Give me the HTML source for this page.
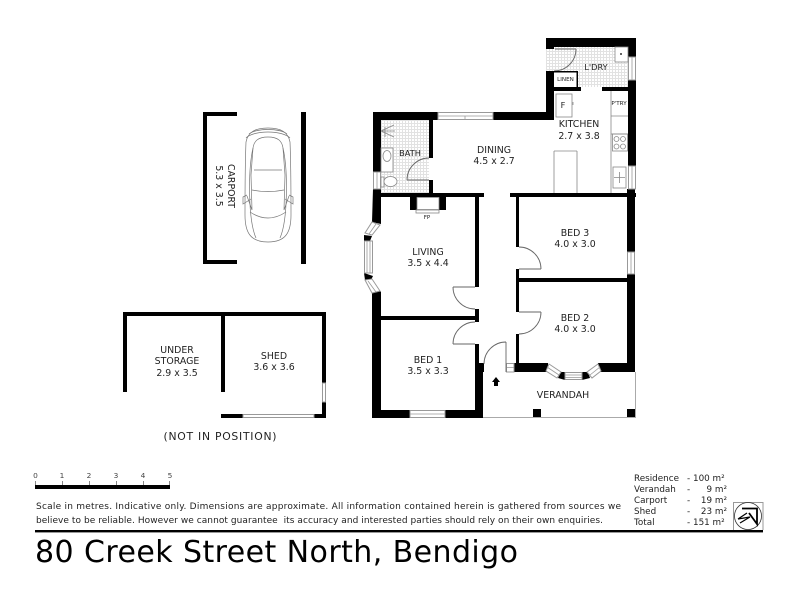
<!DOCTYPE html>
<html><head><meta charset="utf-8"><style>
html,body{margin:0;padding:0;background:#fff}
svg{display:block;filter:blur(.35px)}
text{font-family:"DejaVu Sans","Liberation Sans",sans-serif;fill:#222}
.r{font-size:9.4px;text-anchor:middle}
.s{font-size:8.2px;text-anchor:middle}
.t{font-size:5.6px;text-anchor:middle}
.a{font-size:8.8px}
.n{font-size:7.4px;text-anchor:middle;fill:#444}
</style></head><body>
<svg width="800" height="600" viewBox="0 0 800 600" xmlns="http://www.w3.org/2000/svg">
<defs><pattern id="g" width="3" height="3" patternUnits="userSpaceOnUse"><rect width="3" height="3" fill="#fff"/><path d="M0 .5H3M.5 0V3" stroke="#e2e2e2" stroke-width="1"/></pattern></defs>
<rect width="800" height="600" fill="#fff"/>
<!-- grids -->
<rect x="546" y="47" width="82" height="40" fill="url(#g)"/>
<rect x="381" y="120" width="48" height="73" fill="url(#g)"/>
<!-- walls -->
<g fill="#000">
<rect x="546" y="38" width="90" height="9"/>
<rect x="628" y="38" width="8" height="19"/>
<rect x="628" y="80" width="8" height="86"/>
<rect x="627" y="189" width="8" height="63"/>
<rect x="627" y="274" width="8" height="98"/>
<rect x="546" y="38" width="8" height="11"/>
<rect x="546" y="71" width="8" height="49"/>
<rect x="493" y="112" width="61" height="8"/>
<rect x="373" y="112" width="65" height="8"/>
<rect x="373" y="112" width="8" height="60"/>
<rect x="429" y="120" width="4" height="38"/>
<rect x="429" y="180" width="4" height="14"/>
<rect x="373" y="193" width="111" height="4"/>
<rect x="510" y="193" width="126" height="4"/>
<polygon points="373,189 381,189 381,224 372,222"/>
<polygon points="372,293 380,291 381,292 381,418 372,418"/>
<rect x="410" y="197" width="7" height="13"/>
<rect x="439" y="197" width="7" height="13"/>
<rect x="475" y="197" width="4" height="90"/>
<rect x="475" y="309" width="4" height="13"/>
<rect x="381" y="316" width="98" height="4"/>
<rect x="475" y="344" width="4" height="20"/>
<rect x="475" y="363" width="9" height="9"/>
<rect x="475" y="372" width="8" height="46"/>
<rect x="372" y="410" width="38" height="8"/>
<rect x="445" y="410" width="38" height="8"/>
<rect x="516" y="197" width="3" height="50"/>
<rect x="516" y="269" width="3" height="43"/>
<rect x="516" y="334" width="3" height="30"/>
<rect x="516" y="278" width="111" height="4"/>
<rect x="514" y="363" width="34" height="9"/>
<rect x="598" y="363" width="37" height="9"/>
<rect x="554" y="87" width="27" height="4"/>
<rect x="602" y="87" width="26" height="4"/>
<rect x="533" y="409" width="8" height="8"/>
<rect x="627" y="409" width="8" height="8"/>
<!-- bay blocks -->
<polygon points="364,235 372,236 370,241 364,241"/>
<polygon points="364,273 373,276 371,280 365,280"/>
<polygon points="558,378 565,380 565,372 561,372"/>
<polygon points="582,372 588,372 590,378 582,380"/>
<!-- carport -->
<rect x="203" y="112" width="4" height="152"/>
<rect x="203" y="112" width="34" height="4"/>
<rect x="203" y="260" width="34" height="4"/>
<rect x="301" y="112" width="5" height="152"/>
<!-- shed -->
<rect x="123" y="312" width="203" height="4"/>
<rect x="123" y="312" width="4" height="80"/>
<rect x="221" y="316" width="4" height="76"/>
<rect x="322" y="312" width="4" height="71"/>
<rect x="322" y="402" width="4" height="16"/>
<rect x="221" y="414" width="22" height="4"/>
<rect x="314" y="414" width="12" height="4"/>
<!-- scale + rule -->
<rect x="35" y="485" width="135" height="4"/>
<rect x="35" y="530" width="728" height="2.4"/>
</g>
<!-- windows -->
<g fill="#fff" stroke="#999" stroke-width="1">
<rect x="628.5" y="57" width="7" height="23"/>
<rect x="628.5" y="166" width="7" height="23"/>
<rect x="627.5" y="252" width="7" height="22"/>
<rect x="373.5" y="172" width="7" height="17"/>
<rect x="410" y="410.5" width="35" height="7"/>
<rect x="438" y="112.5" width="55" height="7"/>
<rect x="364.5" y="241" width="8" height="32"/>
<rect x="565" y="372.5" width="17" height="7"/>
<rect x="506.5" y="363.5" width="7.5" height="8.5"/>
<rect x="322.5" y="383" width="3" height="19"/>
<rect x="243" y="414.5" width="71" height="3"/>
<polygon points="372,222 380,225 372,235 365,233"/>
<polygon points="365,280 372,279 380,291 372,293"/>
<polygon points="549,364 561,372 557,378 546,371"/>
<polygon points="598,364 587,372 592,378 601,371"/>
</g>
<g stroke="#999" stroke-width=".8" fill="none">
<path d="M632 57V80M632 166V189M631 252V274M377 172V189M410 414H445M367 241V273M370 241V273M565 375H582M565 377.500H582M507 367.500H514M438 116H465M465 116V120M465 116H493M369 234L376 224M368 281L376 292M547 367L559 375M600 367L590 375"/>
</g>
<!-- doors -->
<g fill="none" stroke="#666" stroke-width=".9">
<path d="M576 49H555M576 49A22 22 0 0 1 554 71"/>
<path d="M407 180H429M407 180A22 22 0 0 1 429 158"/>
<path d="M453 287H475M453 287A22 22 0 0 0 475 309"/>
<path d="M453 344H475M453 344A22 22 0 0 1 475 322"/>
<path d="M519 269H541M541 269A22 22 0 0 0 519 247"/>
<path d="M519 312H541M541 312A22 22 0 0 1 519 334"/>
<path d="M506 342V372M506 342A22 22 0 0 0 484 364"/>
</g>
<!-- verandah outline -->
<path d="M483 417.500H635.500V372" fill="none" stroke="#aaa" stroke-width="1"/>
<!-- entry arrow -->
<polygon points="496,377 500,382 498,382 498,386 494,386 494,382 492,382" fill="#000"/>
<!-- fixtures -->
<g fill="none" stroke="#888" stroke-width=".8">
<rect x="556" y="94" width="16" height="23"/>
<path d="M573 102V105"/>
<path d="M611 91V193M611 116H628M554 151H577M554 151V193M577 151V193M611 134H628"/>
<rect x="612.500" y="134" width="15" height="17"/>
<circle cx="616.500" cy="139" r="2.500"/><circle cx="623" cy="139" r="2.500"/><circle cx="616.500" cy="146.500" r="2.500"/><circle cx="623" cy="146.500" r="2.500"/>
<rect x="613" y="167" width="13" height="21"/>
<path d="M614 177.500H625M619.500 172V183"/>
<rect x="615" y="47" width="13" height="15" fill="#fff"/>
<rect x="554" y="71" width="23" height="16" fill="#fff" stroke="none"/>
<path d="M381 131H395M381 131L394 125M381 131L394 137M385 127V137"/>
<rect x="381" y="148" width="12" height="24" fill="#fff"/>
<ellipse cx="387" cy="156" rx="4" ry="5.500"/>
<rect x="381" y="177" width="3" height="10" fill="#fff"/>
<ellipse cx="390.500" cy="181.500" rx="6.500" ry="5" fill="#fff"/>
<rect x="417" y="197.500" width="22" height="12"/>
<rect x="416" y="210" width="23" height="3"/>
</g>
<circle cx="621" cy="54" r="1" fill="#333"/>
<rect x="554" y="71" width="24" height="1.500" fill="#000"/>
<rect x="576.500" y="71" width="1.500" height="16" fill="#000"/>
<!-- car -->
<g fill="none" stroke="#777" stroke-width=".7">
<path d="M268 128C255 128 248 132 246 142C245 165 245 195 245 215C245 232 250 242 268 242C286 242 291 232 291 215C291 195 291 165 290 142C288 132 281 128 268 128Z"/>
<path d="M268 137C258 137 254 141 253 148L251 175L252 210L247 196M268 137C278 137 282 141 283 148L285 175L284 210L289 196"/>
<path d="M253 148C248 170 248 220 256 238M283 148C288 170 288 220 280 238"/>
<path d="M254 170H282M252 190C262 192 274 192 284 190M250 212C262 220 274 220 286 212"/>
<path d="M246 138C254 130 282 130 290 138M249 134C256 128 280 128 287 134"/>
<path d="M251 199L243 204V197L247 195M285 199L293 204V197L289 195"/>
</g>
<!-- labels -->
<text class="r" x="579" y="127">KITCHEN</text><text class="r" x="579" y="139">2.7 x 3.8</text>
<text class="r" x="494" y="153">DINING</text><text class="r" x="494" y="164">4.5 x 2.7</text>
<text class="r" x="428" y="255">LIVING</text><text class="r" x="428" y="266">3.5 x 4.4</text>
<text class="r" x="575" y="236">BED 3</text><text class="r" x="575" y="247">4.0 x 3.0</text>
<text class="r" x="575" y="321">BED 2</text><text class="r" x="575" y="332">4.0 x 3.0</text>
<text class="r" x="428" y="363">BED 1</text><text class="r" x="428" y="374">3.5 x 3.3</text>
<text class="r" x="563" y="398">VERANDAH</text>
<text class="s" x="596" y="70">L'DRY</text>
<text class="s" x="410" y="156">BATH</text>
<text class="t" x="565.500" y="81">LINEN</text>
<text class="t" x="619" y="105">P'TRY</text>
<text class="t" x="427" y="219">FP</text>
<text class="s" x="563" y="108">F</text>
<text class="r" transform="translate(228,186) rotate(90)">CARPORT</text>
<text class="r" transform="translate(216,186) rotate(90)">5.3 x 3.5</text>
<text class="r" x="177" y="353">UNDER</text><text class="r" x="177" y="364">STORAGE</text><text class="r" x="177" y="376">2.9 x 3.5</text>
<text class="r" x="274" y="359">SHED</text><text class="r" x="274" y="370">3.6 x 3.6</text>
<text x="220" y="440" font-size="10.800" text-anchor="middle" textLength="113">(NOT IN POSITION)</text>
<!-- scale -->
<path d="M35.500 481V485M62.500 481V485M89.500 481V485M116.500 481V485M143.500 481V485M169.500 481V485" stroke="#888" stroke-width="1"/>
<text class="n" x="35.500" y="478">0</text><text class="n" x="62" y="478">1</text><text class="n" x="89" y="478">2</text><text class="n" x="116" y="478">3</text><text class="n" x="143" y="478">4</text><text class="n" x="170" y="478">5</text>
<text x="36" y="509" font-size="9" textLength="585">Scale in metres. Indicative only. Dimensions are approximate. All information contained herein is gathered from sources we</text>
<text x="36" y="523" font-size="9" textLength="567" xml:space="preserve">believe to be reliable. However we cannot guarantee  its accuracy and interested parties should rely on their own enquiries.</text>
<text x="35" y="562" font-size="30" textLength="483" style="fill:#000">80 Creek Street North, Bendigo</text>
<!-- areas -->
<g class="a">
<text class="a" x="634" y="481">Residence</text><text class="a" x="687" y="481">- 100 m²</text>
<text class="a" x="634" y="492">Verandah</text><text class="a" x="687" y="492">-</text><text class="a" x="727" y="492" text-anchor="end">9 m²</text>
<text class="a" x="634" y="503">Carport</text><text class="a" x="687" y="503">-</text><text class="a" x="727" y="503" text-anchor="end">19 m²</text>
<text class="a" x="634" y="514">Shed</text><text class="a" x="687" y="514">-</text><text class="a" x="727" y="514" text-anchor="end">23 m²</text>
<text class="a" x="634" y="525">Total</text><text class="a" x="687" y="525">- 151 m²</text>
</g>
<!-- compass -->
<path d="M733.500 530V502.500H763V530" fill="none" stroke="#999" stroke-width="1"/>
<circle cx="748" cy="516" r="13.500" fill="none" stroke="#333" stroke-width=".8"/>
<path d="M742 508.500H757V524L749 513" fill="none" stroke="#000" stroke-width="1.800"/>
<path d="M738 519L747 513M740 523L750 517M738 519L750 517" fill="none" stroke="#000" stroke-width="1.200"/>
</svg>
</body></html>
